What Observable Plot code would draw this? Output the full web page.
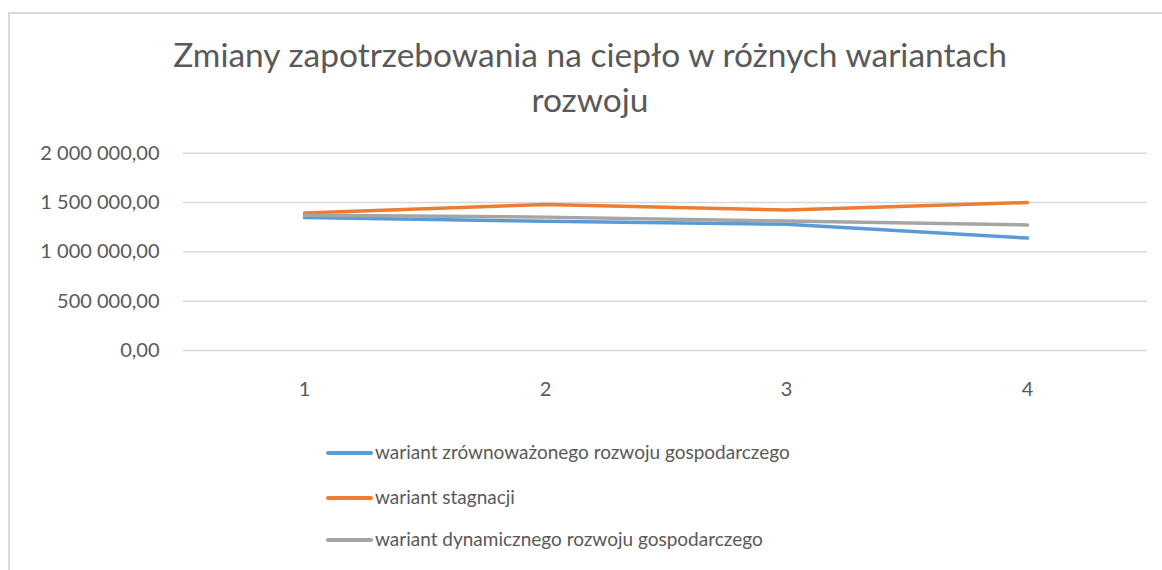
<!DOCTYPE html>
<html>
<head>
<meta charset="utf-8">
<script src="https://cdn.jsdelivr.net/npm/d3@7"></script>
<script src="https://cdn.jsdelivr.net/npm/@observablehq/plot@0.6"></script>
<style>
  html, body { margin: 0; padding: 0; background: #fff; }
  body { width: 1162px; height: 570px; overflow: hidden; position: relative; font-family: Lato, "Open Sans", sans-serif; color: #595959; }
  #frame { position: absolute; left: 8px; top: 12px; width: 1200px; height: 600px; border: 2px solid #d9d9d9; box-sizing: border-box; }
  #title { position: absolute; left: 0; width: 1180px; top: 32px; text-align: center; font-size: 33.5px; line-height: 45px; color: #595959; }
  #chart { position: absolute; left: 0; top: 130px; }
  #legend { position: absolute; left: 326px; top: 440px; font-size: 19px; color: #595959; }
  .item { position: absolute; left: 0; white-space: nowrap; height: 24px; line-height: 24px; }
  .swatch { display: inline-block; width: 47px; height: 4px; border-radius: 2px; vertical-align: middle; margin-right: 2px; position: relative; top: -1px; }
</style>
</head>
<body>
<div id="frame"></div>
<div id="title">Zmiany zapotrzebowania na ciepło w różnych wariantach<br>rozwoju</div>
<div id="chart"></div>
<div id="legend"></div>
<script>
const categories = [1, 2, 3, 4];
const seriesNames = [
  "wariant zrównoważonego rozwoju gospodarczego",
  "wariant stagnacji",
  "wariant dynamicznego rozwoju gospodarczego"
];
const zrownowazony = [1347000, 1310000, 1280000, 1140000];
const stagnacja = [1393000, 1480000, 1423000, 1500000];
const dynamiczny = [1370000, 1352000, 1312000, 1273000];
const yTicks = [0, 500000, 1000000, 1500000, 2000000];
const colors = ["#5B9BD5", "#ED7D31", "#A5A5A5"];

const seriesValues = [zrownowazony, stagnacja, dynamiczny];
const data = [];
seriesNames.forEach((name, i) => {
  categories.forEach((c, j) => data.push({series: name, x: c, y: seriesValues[i][j]}));
});

const fmt = d => d3.format(",.2f")(d).replace(/,/g, " ").replace(".", ",");

const chart = Plot.plot({
  width: 1162,
  height: 290,
  marginLeft: 183,
  marginRight: 15,
  marginTop: 22.7,
  marginBottom: 70,
  style: {fontFamily: "Lato, 'Open Sans', sans-serif", fontSize: "20px", color: "#595959", background: "transparent"},
  x: {type: "point", domain: categories, padding: 0.5},
  y: {domain: [0, 2000000]},
  color: {domain: seriesNames, range: colors},
  marks: [
    Plot.ruleY(yTicks, {stroke: "#d9d9d9", strokeWidth: 1.5}),
    Plot.axisY({ticks: yTicks, tickFormat: fmt, tickSize: 0, tickPadding: 24, label: null, fill: "#595959"}),
    Plot.axisX({tickSize: 0, tickPadding: 31, label: null, fill: "#595959"}),
    Plot.line(data, {x: "x", y: "y", z: "series", stroke: "series", strokeWidth: 3.5, strokeLinecap: "round", strokeLinejoin: "round"})
  ]
});
document.getElementById("chart").appendChild(chart);

const legend = document.getElementById("legend");
const legendTops = [0, 45, 87];
seriesNames.forEach((name, i) => {
  const item = document.createElement("div");
  item.className = "item";
  item.style.top = legendTops[i] + "px";
  const sw = document.createElement("span");
  sw.className = "swatch";
  sw.style.background = colors[i];
  item.appendChild(sw);
  item.appendChild(document.createTextNode(name));
  legend.appendChild(item);
});
</script>
</body>
</html>
